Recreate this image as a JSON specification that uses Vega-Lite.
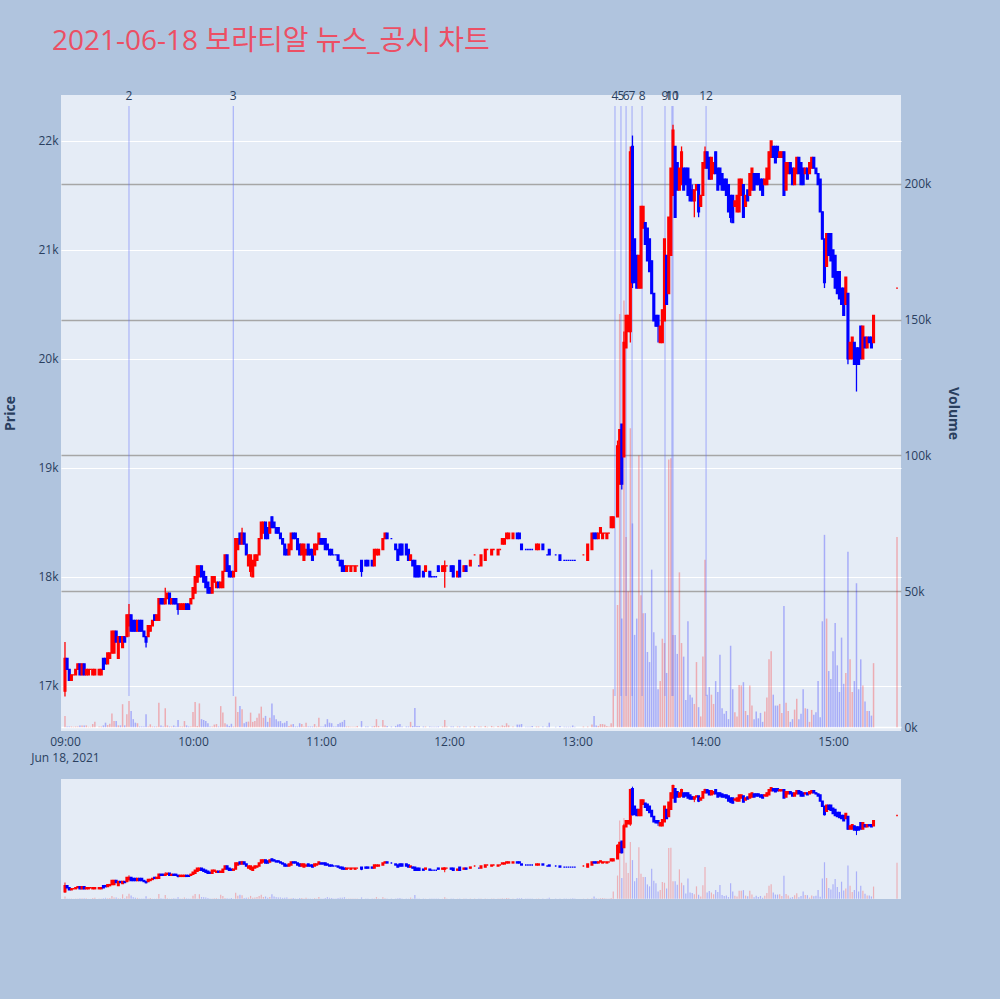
{
"$schema": "https://vega.github.io/schema/vega-lite/v6.json",
"background": "#B0C4DE",
"padding": {"left": 3, "top": 28, "right": 43, "bottom": 100},
"title": {"text": "2021-06-18 보라티알 뉴스_공시 차트", "anchor": "start", "frame": "group", "font": "Open Sans, Noto Sans CJK KR", "fontSize": 28, "fontWeight": "normal", "color": "#EC4F64", "offset": 34, "dx": -9},
"config": {"view": {"stroke": null}, "font": "Open Sans", "scale": {"continuousPadding": 0}, "axis": {"labelColor": "#2a3f5f", "titleColor": "#2a3f5f", "labelFontSize": 12, "ticks": false, "domain": false, "labelFont": "Open Sans", "titleFont": "Open Sans"}},
"bounds": "flush",
"spacing": 48,
"resolve": {"scale": {"x": "independent", "y": "independent"}},
"datasets": {
"events": [
{"t": "2021-06-18 09:30:00", "label": "2"},
{"t": "2021-06-18 10:18:54", "label": "3"},
{"t": "2021-06-18 13:17:48", "label": "4"},
{"t": "2021-06-18 13:20:36", "label": "5"},
{"t": "2021-06-18 13:23:00", "label": "6"},
{"t": "2021-06-18 13:25:48", "label": "7"},
{"t": "2021-06-18 13:30:30", "label": "8"},
{"t": "2021-06-18 13:41:15", "label": "9"},
{"t": "2021-06-18 13:44:30", "label": "10"},
{"t": "2021-06-18 13:45:00", "label": "11"},
{"t": "2021-06-18 14:00:30", "label": "12"}
],
"candles": [
{"t":"2021-06-18 09:00","o":16950,"h":17400,"l":16900,"c":17250,"v":4200},
{"t":"2021-06-18 09:01","o":17250,"h":17250,"l":17150,"c":17150,"v":300},
{"t":"2021-06-18 09:02","o":17150,"h":17150,"l":17050,"c":17050,"v":300},
{"t":"2021-06-18 09:03","o":17050,"h":17100,"l":17050,"c":17100,"v":300},
{"t":"2021-06-18 09:04","o":17100,"h":17100,"l":17100,"c":17100,"v":200},
{"t":"2021-06-18 09:05","o":17100,"h":17150,"l":17100,"c":17150,"v":300},
{"t":"2021-06-18 09:06","o":17150,"h":17200,"l":17150,"c":17200,"v":300},
{"t":"2021-06-18 09:07","o":17200,"h":17200,"l":17100,"c":17100,"v":700},
{"t":"2021-06-18 09:08","o":17100,"h":17200,"l":17100,"c":17200,"v":700},
{"t":"2021-06-18 09:09","o":17200,"h":17200,"l":17100,"c":17100,"v":700},
{"t":"2021-06-18 09:10","o":17100,"h":17150,"l":17100,"c":17150,"v":700},
{"t":"2021-06-18 09:11","o":17100,"h":17150,"l":17100,"c":17150,"v":200},
{"t":"2021-06-18 09:12","o":17150,"h":17150,"l":17150,"c":17150,"v":200},
{"t":"2021-06-18 09:13","o":17100,"h":17150,"l":17100,"c":17150,"v":1200},
{"t":"2021-06-18 09:14","o":17100,"h":17150,"l":17100,"c":17150,"v":2000},
{"t":"2021-06-18 09:16","o":17100,"h":17150,"l":17100,"c":17150,"v":300},
{"t":"2021-06-18 09:17","o":17100,"h":17150,"l":17100,"c":17150,"v":300},
{"t":"2021-06-18 09:18","o":17250,"h":17250,"l":17150,"c":17150,"v":700},
{"t":"2021-06-18 09:19","o":17250,"h":17250,"l":17200,"c":17200,"v":1700},
{"t":"2021-06-18 09:20","o":17200,"h":17300,"l":17200,"c":17300,"v":800},
{"t":"2021-06-18 09:21","o":17250,"h":17300,"l":17250,"c":17300,"v":1300},
{"t":"2021-06-18 09:22","o":17300,"h":17500,"l":17300,"c":17500,"v":5100},
{"t":"2021-06-18 09:23","o":17300,"h":17500,"l":17300,"c":17500,"v":2300},
{"t":"2021-06-18 09:24","o":17500,"h":17500,"l":17400,"c":17400,"v":2300},
{"t":"2021-06-18 09:25","o":17250,"h":17450,"l":17250,"c":17450,"v":700},
{"t":"2021-06-18 09:26","o":17450,"h":17450,"l":17400,"c":17400,"v":700},
{"t":"2021-06-18 09:27","o":17350,"h":17450,"l":17350,"c":17450,"v":8500},
{"t":"2021-06-18 09:28","o":17450,"h":17450,"l":17400,"c":17400,"v":700},
{"t":"2021-06-18 09:29","o":17450,"h":17650,"l":17450,"c":17650,"v":4800},
{"t":"2021-06-18 09:30","o":17550,"h":17750,"l":17450,"c":17650,"v":9700},
{"t":"2021-06-18 09:31","o":17650,"h":17650,"l":17500,"c":17500,"v":6000},
{"t":"2021-06-18 09:32","o":17600,"h":17600,"l":17500,"c":17500,"v":3000},
{"t":"2021-06-18 09:33","o":17600,"h":17600,"l":17500,"c":17500,"v":1700},
{"t":"2021-06-18 09:34","o":17500,"h":17600,"l":17500,"c":17600,"v":1500},
{"t":"2021-06-18 09:35","o":17600,"h":17600,"l":17500,"c":17500,"v":300},
{"t":"2021-06-18 09:36","o":17600,"h":17600,"l":17500,"c":17500,"v":300},
{"t":"2021-06-18 09:37","o":17500,"h":17500,"l":17450,"c":17450,"v":300},
{"t":"2021-06-18 09:38","o":17450,"h":17450,"l":17350,"c":17400,"v":4800},
{"t":"2021-06-18 09:39","o":17450,"h":17550,"l":17450,"c":17550,"v":300},
{"t":"2021-06-18 09:40","o":17500,"h":17550,"l":17500,"c":17550,"v":1100},
{"t":"2021-06-18 09:41","o":17550,"h":17600,"l":17550,"c":17600,"v":300},
{"t":"2021-06-18 09:42","o":17650,"h":17650,"l":17600,"c":17600,"v":300},
{"t":"2021-06-18 09:43","o":17600,"h":17650,"l":17600,"c":17650,"v":300},
{"t":"2021-06-18 09:44","o":17600,"h":17800,"l":17600,"c":17800,"v":9000},
{"t":"2021-06-18 09:45","o":17800,"h":17800,"l":17750,"c":17750,"v":700},
{"t":"2021-06-18 09:46","o":17800,"h":17800,"l":17750,"c":17750,"v":300},
{"t":"2021-06-18 09:47","o":17750,"h":17900,"l":17750,"c":17800,"v":7000},
{"t":"2021-06-18 09:48","o":17800,"h":17850,"l":17800,"c":17850,"v":700},
{"t":"2021-06-18 09:49","o":17850,"h":17850,"l":17750,"c":17750,"v":300},
{"t":"2021-06-18 09:50","o":17750,"h":17800,"l":17750,"c":17800,"v":300},
{"t":"2021-06-18 09:51","o":17800,"h":17800,"l":17750,"c":17750,"v":700},
{"t":"2021-06-18 09:52","o":17800,"h":17800,"l":17750,"c":17750,"v":300},
{"t":"2021-06-18 09:53","o":17750,"h":17750,"l":17650,"c":17700,"v":2700},
{"t":"2021-06-18 09:54","o":17700,"h":17750,"l":17700,"c":17750,"v":300},
{"t":"2021-06-18 09:55","o":17700,"h":17750,"l":17700,"c":17750,"v":300},
{"t":"2021-06-18 09:56","o":17700,"h":17750,"l":17700,"c":17750,"v":2300},
{"t":"2021-06-18 09:57","o":17750,"h":17750,"l":17700,"c":17700,"v":700},
{"t":"2021-06-18 09:58","o":17750,"h":17750,"l":17700,"c":17700,"v":300},
{"t":"2021-06-18 09:59","o":17750,"h":17800,"l":17750,"c":17800,"v":300},
{"t":"2021-06-18 10:00","o":17800,"h":17900,"l":17800,"c":17900,"v":5600},
{"t":"2021-06-18 10:01","o":17850,"h":18000,"l":17850,"c":18000,"v":9300},
{"t":"2021-06-18 10:02","o":17950,"h":18100,"l":17950,"c":18100,"v":500},
{"t":"2021-06-18 10:03","o":18000,"h":18100,"l":18000,"c":18100,"v":8800},
{"t":"2021-06-18 10:04","o":18100,"h":18100,"l":18000,"c":18000,"v":3000},
{"t":"2021-06-18 10:05","o":18050,"h":18050,"l":17950,"c":17950,"v":2700},
{"t":"2021-06-18 10:06","o":18000,"h":18000,"l":17900,"c":17900,"v":2300},
{"t":"2021-06-18 10:07","o":17950,"h":17950,"l":17850,"c":17850,"v":1500},
{"t":"2021-06-18 10:08","o":17900,"h":17900,"l":17850,"c":17850,"v":300},
{"t":"2021-06-18 10:09","o":17850,"h":18000,"l":17850,"c":18000,"v":300},
{"t":"2021-06-18 10:10","o":17950,"h":18000,"l":17950,"c":18000,"v":1000},
{"t":"2021-06-18 10:11","o":17900,"h":17950,"l":17900,"c":17950,"v":1200},
{"t":"2021-06-18 10:12","o":17950,"h":17950,"l":17900,"c":17900,"v":300},
{"t":"2021-06-18 10:13","o":17900,"h":17950,"l":17900,"c":17950,"v":7800},
{"t":"2021-06-18 10:14","o":17900,"h":18050,"l":17900,"c":18050,"v":5400},
{"t":"2021-06-18 10:15","o":18050,"h":18200,"l":18050,"c":18200,"v":1500},
{"t":"2021-06-18 10:16","o":18200,"h":18200,"l":18050,"c":18050,"v":1000},
{"t":"2021-06-18 10:17","o":18100,"h":18100,"l":18000,"c":18000,"v":500},
{"t":"2021-06-18 10:18","o":18050,"h":18050,"l":18000,"c":18000,"v":1300},
{"t":"2021-06-18 10:19","o":18000,"h":18050,"l":18000,"c":18050,"v":300},
{"t":"2021-06-18 10:20","o":18050,"h":18350,"l":18050,"c":18350,"v":11300},
{"t":"2021-06-18 10:21","o":18250,"h":18350,"l":18250,"c":18350,"v":5600},
{"t":"2021-06-18 10:22","o":18400,"h":18400,"l":18300,"c":18300,"v":7800},
{"t":"2021-06-18 10:23","o":18300,"h":18450,"l":18300,"c":18400,"v":6600},
{"t":"2021-06-18 10:24","o":18400,"h":18400,"l":18300,"c":18300,"v":1500},
{"t":"2021-06-18 10:25","o":18300,"h":18300,"l":18200,"c":18200,"v":2000},
{"t":"2021-06-18 10:26","o":18100,"h":18200,"l":18100,"c":18200,"v":2100},
{"t":"2021-06-18 10:27","o":18050,"h":18200,"l":18000,"c":18200,"v":5400},
{"t":"2021-06-18 10:28","o":18000,"h":18150,"l":18000,"c":18150,"v":2000},
{"t":"2021-06-18 10:29","o":18100,"h":18200,"l":18100,"c":18200,"v":2300},
{"t":"2021-06-18 10:30","o":18150,"h":18200,"l":18150,"c":18200,"v":3500},
{"t":"2021-06-18 10:31","o":18200,"h":18350,"l":18200,"c":18350,"v":5100},
{"t":"2021-06-18 10:32","o":18350,"h":18500,"l":18350,"c":18500,"v":7600},
{"t":"2021-06-18 10:33","o":18400,"h":18500,"l":18400,"c":18500,"v":3500},
{"t":"2021-06-18 10:34","o":18500,"h":18500,"l":18350,"c":18350,"v":4200},
{"t":"2021-06-18 10:35","o":18450,"h":18450,"l":18350,"c":18350,"v":2000},
{"t":"2021-06-18 10:36","o":18400,"h":18500,"l":18400,"c":18500,"v":3500},
{"t":"2021-06-18 10:37","o":18550,"h":18550,"l":18450,"c":18450,"v":8800},
{"t":"2021-06-18 10:38","o":18500,"h":18500,"l":18450,"c":18450,"v":4400},
{"t":"2021-06-18 10:39","o":18450,"h":18450,"l":18400,"c":18400,"v":3000},
{"t":"2021-06-18 10:40","o":18450,"h":18450,"l":18400,"c":18400,"v":2200},
{"t":"2021-06-18 10:41","o":18400,"h":18400,"l":18350,"c":18350,"v":2300},
{"t":"2021-06-18 10:42","o":18350,"h":18350,"l":18300,"c":18300,"v":1500},
{"t":"2021-06-18 10:43","o":18300,"h":18300,"l":18200,"c":18200,"v":1700},
{"t":"2021-06-18 10:44","o":18250,"h":18250,"l":18200,"c":18200,"v":2300},
{"t":"2021-06-18 10:45","o":18200,"h":18300,"l":18200,"c":18300,"v":500},
{"t":"2021-06-18 10:46","o":18250,"h":18400,"l":18250,"c":18400,"v":1000},
{"t":"2021-06-18 10:47","o":18400,"h":18400,"l":18350,"c":18350,"v":1200},
{"t":"2021-06-18 10:48","o":18400,"h":18400,"l":18350,"c":18350,"v":300},
{"t":"2021-06-18 10:49","o":18350,"h":18350,"l":18250,"c":18250,"v":300},
{"t":"2021-06-18 10:50","o":18300,"h":18300,"l":18200,"c":18200,"v":1500},
{"t":"2021-06-18 10:51","o":18200,"h":18300,"l":18200,"c":18300,"v":1200},
{"t":"2021-06-18 10:52","o":18150,"h":18300,"l":18150,"c":18300,"v":300},
{"t":"2021-06-18 10:53","o":18200,"h":18250,"l":18200,"c":18250,"v":1700},
{"t":"2021-06-18 10:54","o":18300,"h":18300,"l":18200,"c":18200,"v":300},
{"t":"2021-06-18 10:55","o":18250,"h":18250,"l":18200,"c":18200,"v":300},
{"t":"2021-06-18 10:56","o":18250,"h":18250,"l":18150,"c":18150,"v":300},
{"t":"2021-06-18 10:57","o":18200,"h":18300,"l":18200,"c":18300,"v":1200},
{"t":"2021-06-18 10:58","o":18250,"h":18300,"l":18250,"c":18300,"v":300},
{"t":"2021-06-18 10:59","o":18300,"h":18400,"l":18300,"c":18400,"v":3500},
{"t":"2021-06-18 11:00","o":18350,"h":18350,"l":18300,"c":18300,"v":300},
{"t":"2021-06-18 11:01","o":18350,"h":18350,"l":18300,"c":18300,"v":300},
{"t":"2021-06-18 11:02","o":18350,"h":18350,"l":18250,"c":18250,"v":1100},
{"t":"2021-06-18 11:03","o":18300,"h":18300,"l":18250,"c":18250,"v":3000},
{"t":"2021-06-18 11:04","o":18250,"h":18250,"l":18200,"c":18200,"v":1700},
{"t":"2021-06-18 11:05","o":18250,"h":18250,"l":18200,"c":18200,"v":1500},
{"t":"2021-06-18 11:06","o":18200,"h":18200,"l":18200,"c":18200,"v":300},
{"t":"2021-06-18 11:07","o":18200,"h":18200,"l":18200,"c":18200,"v":300},
{"t":"2021-06-18 11:08","o":18200,"h":18200,"l":18150,"c":18150,"v":1200},
{"t":"2021-06-18 11:09","o":18150,"h":18150,"l":18100,"c":18100,"v":1700},
{"t":"2021-06-18 11:10","o":18150,"h":18150,"l":18050,"c":18050,"v":2000},
{"t":"2021-06-18 11:11","o":18100,"h":18100,"l":18050,"c":18050,"v":2700},
{"t":"2021-06-18 11:12","o":18050,"h":18100,"l":18050,"c":18100,"v":300},
{"t":"2021-06-18 11:13","o":18100,"h":18100,"l":18100,"c":18100,"v":300},
{"t":"2021-06-18 11:14","o":18050,"h":18100,"l":18050,"c":18100,"v":200},
{"t":"2021-06-18 11:15","o":18100,"h":18100,"l":18100,"c":18100,"v":200},
{"t":"2021-06-18 11:16","o":18050,"h":18100,"l":18050,"c":18100,"v":200},
{"t":"2021-06-18 11:17","o":18100,"h":18100,"l":18100,"c":18100,"v":500},
{"t":"2021-06-18 11:19","o":18150,"h":18150,"l":18000,"c":18050,"v":2300},
{"t":"2021-06-18 11:21","o":18150,"h":18150,"l":18100,"c":18100,"v":300},
{"t":"2021-06-18 11:22","o":18150,"h":18150,"l":18100,"c":18100,"v":300},
{"t":"2021-06-18 11:24","o":18150,"h":18150,"l":18100,"c":18100,"v":300},
{"t":"2021-06-18 11:25","o":18100,"h":18250,"l":18100,"c":18250,"v":500},
{"t":"2021-06-18 11:26","o":18200,"h":18250,"l":18200,"c":18250,"v":3000},
{"t":"2021-06-18 11:27","o":18200,"h":18250,"l":18200,"c":18250,"v":500},
{"t":"2021-06-18 11:29","o":18250,"h":18350,"l":18250,"c":18350,"v":2700},
{"t":"2021-06-18 11:30","o":18350,"h":18400,"l":18350,"c":18400,"v":700},
{"t":"2021-06-18 11:31","o":18400,"h":18400,"l":18350,"c":18350,"v":500},
{"t":"2021-06-18 11:33","o":18350,"h":18350,"l":18350,"c":18350,"v":300},
{"t":"2021-06-18 11:35","o":18300,"h":18300,"l":18250,"c":18250,"v":500},
{"t":"2021-06-18 11:36","o":18250,"h":18250,"l":18150,"c":18150,"v":1000},
{"t":"2021-06-18 11:37","o":18300,"h":18300,"l":18200,"c":18200,"v":1200},
{"t":"2021-06-18 11:38","o":18300,"h":18300,"l":18200,"c":18200,"v":300},
{"t":"2021-06-18 11:40","o":18300,"h":18300,"l":18200,"c":18200,"v":300},
{"t":"2021-06-18 11:41","o":18250,"h":18250,"l":18150,"c":18150,"v":300},
{"t":"2021-06-18 11:42","o":18150,"h":18200,"l":18150,"c":18200,"v":2000},
{"t":"2021-06-18 11:43","o":18150,"h":18150,"l":18100,"c":18100,"v":500},
{"t":"2021-06-18 11:44","o":18150,"h":18150,"l":18000,"c":18000,"v":7100},
{"t":"2021-06-18 11:45","o":18100,"h":18100,"l":18000,"c":18000,"v":500},
{"t":"2021-06-18 11:46","o":18100,"h":18100,"l":18000,"c":18000,"v":500},
{"t":"2021-06-18 11:48","o":18050,"h":18050,"l":18000,"c":18000,"v":300},
{"t":"2021-06-18 11:49","o":18050,"h":18100,"l":18050,"c":18100,"v":300},
{"t":"2021-06-18 11:51","o":18050,"h":18050,"l":18000,"c":18000,"v":300},
{"t":"2021-06-18 11:52","o":18000,"h":18000,"l":18000,"c":18000,"v":200},
{"t":"2021-06-18 11:53","o":18000,"h":18000,"l":18000,"c":18000,"v":200},
{"t":"2021-06-18 11:54","o":18000,"h":18000,"l":18000,"c":18000,"v":200},
{"t":"2021-06-18 11:55","o":18100,"h":18100,"l":18050,"c":18050,"v":300},
{"t":"2021-06-18 11:57","o":18050,"h":18100,"l":18050,"c":18100,"v":300},
{"t":"2021-06-18 11:58","o":18050,"h":18150,"l":17900,"c":18100,"v":2700},
{"t":"2021-06-18 11:59","o":18100,"h":18100,"l":18100,"c":18100,"v":300},
{"t":"2021-06-18 12:01","o":18100,"h":18100,"l":18050,"c":18050,"v":300},
{"t":"2021-06-18 12:02","o":18100,"h":18100,"l":18000,"c":18000,"v":300},
{"t":"2021-06-18 12:04","o":18000,"h":18050,"l":18000,"c":18050,"v":300},
{"t":"2021-06-18 12:05","o":18150,"h":18150,"l":18000,"c":18000,"v":300},
{"t":"2021-06-18 12:07","o":18050,"h":18100,"l":18050,"c":18100,"v":300},
{"t":"2021-06-18 12:08","o":18100,"h":18100,"l":18050,"c":18050,"v":300},
{"t":"2021-06-18 12:10","o":18100,"h":18150,"l":18100,"c":18150,"v":300},
{"t":"2021-06-18 12:12","o":18200,"h":18200,"l":18200,"c":18200,"v":500},
{"t":"2021-06-18 12:14","o":18100,"h":18100,"l":18100,"c":18100,"v":300},
{"t":"2021-06-18 12:15","o":18100,"h":18200,"l":18100,"c":18200,"v":300},
{"t":"2021-06-18 12:17","o":18150,"h":18250,"l":18150,"c":18250,"v":500},
{"t":"2021-06-18 12:18","o":18250,"h":18250,"l":18250,"c":18250,"v":200},
{"t":"2021-06-18 12:20","o":18200,"h":18250,"l":18200,"c":18250,"v":500},
{"t":"2021-06-18 12:21","o":18250,"h":18250,"l":18250,"c":18250,"v":200},
{"t":"2021-06-18 12:23","o":18200,"h":18250,"l":18200,"c":18250,"v":500},
{"t":"2021-06-18 12:24","o":18250,"h":18250,"l":18250,"c":18250,"v":200},
{"t":"2021-06-18 12:25","o":18300,"h":18350,"l":18300,"c":18350,"v":700},
{"t":"2021-06-18 12:26","o":18300,"h":18350,"l":18300,"c":18350,"v":500},
{"t":"2021-06-18 12:27","o":18350,"h":18400,"l":18350,"c":18400,"v":1500},
{"t":"2021-06-18 12:28","o":18350,"h":18400,"l":18350,"c":18400,"v":700},
{"t":"2021-06-18 12:30","o":18350,"h":18400,"l":18350,"c":18400,"v":300},
{"t":"2021-06-18 12:32","o":18400,"h":18400,"l":18350,"c":18350,"v":1000},
{"t":"2021-06-18 12:33","o":18400,"h":18400,"l":18350,"c":18350,"v":1000},
{"t":"2021-06-18 12:34","o":18300,"h":18300,"l":18250,"c":18250,"v":1200},
{"t":"2021-06-18 12:36","o":18250,"h":18250,"l":18250,"c":18250,"v":200},
{"t":"2021-06-18 12:37","o":18250,"h":18250,"l":18250,"c":18250,"v":200},
{"t":"2021-06-18 12:38","o":18250,"h":18250,"l":18250,"c":18250,"v":200},
{"t":"2021-06-18 12:39","o":18250,"h":18250,"l":18250,"c":18250,"v":500},
{"t":"2021-06-18 12:41","o":18250,"h":18300,"l":18250,"c":18300,"v":300},
{"t":"2021-06-18 12:42","o":18250,"h":18300,"l":18250,"c":18300,"v":300},
{"t":"2021-06-18 12:44","o":18300,"h":18300,"l":18250,"c":18250,"v":300},
{"t":"2021-06-18 12:46","o":18200,"h":18200,"l":18200,"c":18200,"v":300},
{"t":"2021-06-18 12:47","o":18250,"h":18250,"l":18200,"c":18200,"v":1700},
{"t":"2021-06-18 12:50","o":18200,"h":18200,"l":18200,"c":18200,"v":200},
{"t":"2021-06-18 12:52","o":18200,"h":18200,"l":18150,"c":18150,"v":500},
{"t":"2021-06-18 12:54","o":18150,"h":18150,"l":18150,"c":18150,"v":200},
{"t":"2021-06-18 12:55","o":18150,"h":18150,"l":18150,"c":18150,"v":200},
{"t":"2021-06-18 12:56","o":18150,"h":18150,"l":18150,"c":18150,"v":200},
{"t":"2021-06-18 12:57","o":18150,"h":18150,"l":18150,"c":18150,"v":200},
{"t":"2021-06-18 12:58","o":18150,"h":18150,"l":18150,"c":18150,"v":700},
{"t":"2021-06-18 12:59","o":18150,"h":18150,"l":18150,"c":18150,"v":200},
{"t":"2021-06-18 13:03","o":18200,"h":18200,"l":18200,"c":18200,"v":300},
{"t":"2021-06-18 13:05","o":18150,"h":18300,"l":18150,"c":18300,"v":300},
{"t":"2021-06-18 13:07","o":18250,"h":18400,"l":18250,"c":18400,"v":1000},
{"t":"2021-06-18 13:08","o":18400,"h":18400,"l":18350,"c":18350,"v":4200},
{"t":"2021-06-18 13:09","o":18400,"h":18400,"l":18350,"c":18350,"v":700},
{"t":"2021-06-18 13:10","o":18350,"h":18400,"l":18350,"c":18400,"v":500},
{"t":"2021-06-18 13:11","o":18400,"h":18450,"l":18400,"c":18450,"v":1200},
{"t":"2021-06-18 13:12","o":18350,"h":18400,"l":18350,"c":18400,"v":1200},
{"t":"2021-06-18 13:13","o":18400,"h":18400,"l":18400,"c":18400,"v":1000},
{"t":"2021-06-18 13:14","o":18350,"h":18400,"l":18350,"c":18400,"v":500},
{"t":"2021-06-18 13:15","o":18400,"h":18400,"l":18400,"c":18400,"v":300},
{"t":"2021-06-18 13:16","o":18450,"h":18550,"l":18450,"c":18550,"v":1500},
{"t":"2021-06-18 13:17","o":18450,"h":18550,"l":18450,"c":18550,"v":14000},
{"t":"2021-06-18 13:19","o":18550,"h":19250,"l":18550,"c":19200,"v":45000},
{"t":"2021-06-18 13:20","o":18850,"h":19350,"l":18850,"c":19350,"v":152000},
{"t":"2021-06-18 13:21","o":19400,"h":19400,"l":18800,"c":18850,"v":40000},
{"t":"2021-06-18 13:22","o":19100,"h":20250,"l":19100,"c":20150,"v":157000},
{"t":"2021-06-18 13:23","o":20100,"h":20400,"l":20100,"c":20400,"v":70000},
{"t":"2021-06-18 13:24","o":20250,"h":20400,"l":20250,"c":20400,"v":50000},
{"t":"2021-06-18 13:25","o":20250,"h":21950,"l":20150,"c":21900,"v":110000},
{"t":"2021-06-18 13:26","o":21950,"h":22050,"l":20650,"c":20700,"v":75000},
{"t":"2021-06-18 13:27","o":21100,"h":21100,"l":20700,"c":20700,"v":34000},
{"t":"2021-06-18 13:28","o":20950,"h":20950,"l":20650,"c":20650,"v":40000},
{"t":"2021-06-18 13:29","o":20650,"h":20950,"l":20650,"c":20950,"v":100000},
{"t":"2021-06-18 13:30","o":20650,"h":21400,"l":20650,"c":21400,"v":48600},
{"t":"2021-06-18 13:31","o":21200,"h":21400,"l":21200,"c":21400,"v":42000},
{"t":"2021-06-18 13:32","o":21250,"h":21250,"l":21050,"c":21050,"v":42000},
{"t":"2021-06-18 13:33","o":21200,"h":21200,"l":20900,"c":20900,"v":27700},
{"t":"2021-06-18 13:34","o":21100,"h":21100,"l":20800,"c":20800,"v":24000},
{"t":"2021-06-18 13:35","o":20900,"h":20900,"l":20600,"c":20600,"v":58000},
{"t":"2021-06-18 13:36","o":20600,"h":20600,"l":20350,"c":20350,"v":35000},
{"t":"2021-06-18 13:37","o":20400,"h":20400,"l":20300,"c":20300,"v":30000},
{"t":"2021-06-18 13:38","o":20400,"h":20400,"l":20150,"c":20300,"v":14000},
{"t":"2021-06-18 13:39","o":20150,"h":20300,"l":20150,"c":20300,"v":17000},
{"t":"2021-06-18 13:40","o":20150,"h":20450,"l":20150,"c":20450,"v":32600},
{"t":"2021-06-18 13:41","o":20350,"h":21100,"l":20350,"c":21100,"v":31000},
{"t":"2021-06-18 13:42","o":20950,"h":20950,"l":20500,"c":20500,"v":20000},
{"t":"2021-06-18 13:43","o":20600,"h":21300,"l":20600,"c":21300,"v":98500},
{"t":"2021-06-18 13:44","o":20950,"h":21750,"l":20950,"c":21750,"v":99000},
{"t":"2021-06-18 13:45","o":21500,"h":22150,"l":21500,"c":22100,"v":34000},
{"t":"2021-06-18 13:46","o":21950,"h":21950,"l":21300,"c":21300,"v":34000},
{"t":"2021-06-18 13:47","o":21800,"h":21800,"l":21550,"c":21550,"v":27000},
{"t":"2021-06-18 13:48","o":21550,"h":21750,"l":21550,"c":21750,"v":57000},
{"t":"2021-06-18 13:49","o":21600,"h":21950,"l":21600,"c":21900,"v":31000},
{"t":"2021-06-18 13:50","o":21750,"h":21750,"l":21550,"c":21550,"v":26000},
{"t":"2021-06-18 13:51","o":21750,"h":21750,"l":21600,"c":21600,"v":10000},
{"t":"2021-06-18 13:52","o":21750,"h":21750,"l":21500,"c":21500,"v":39000},
{"t":"2021-06-18 13:53","o":21650,"h":21650,"l":21450,"c":21450,"v":12000},
{"t":"2021-06-18 13:54","o":21550,"h":21600,"l":21450,"c":21450,"v":11000},
{"t":"2021-06-18 13:55","o":21450,"h":21550,"l":21300,"c":21550,"v":8600},
{"t":"2021-06-18 13:56","o":21550,"h":21600,"l":21550,"c":21600,"v":24000},
{"t":"2021-06-18 13:57","o":21600,"h":21600,"l":21300,"c":21350,"v":7400},
{"t":"2021-06-18 13:58","o":21400,"h":21500,"l":21400,"c":21500,"v":4000},
{"t":"2021-06-18 13:59","o":21500,"h":21800,"l":21500,"c":21800,"v":26000},
{"t":"2021-06-18 14:00","o":21750,"h":21950,"l":21750,"c":21900,"v":61600},
{"t":"2021-06-18 14:01","o":21900,"h":21900,"l":21750,"c":21750,"v":12000},
{"t":"2021-06-18 14:02","o":21850,"h":21850,"l":21650,"c":21650,"v":14800},
{"t":"2021-06-18 14:03","o":21650,"h":21850,"l":21650,"c":21850,"v":12000},
{"t":"2021-06-18 14:04","o":21700,"h":21800,"l":21700,"c":21800,"v":8600},
{"t":"2021-06-18 14:05","o":21900,"h":21900,"l":21700,"c":21700,"v":17000},
{"t":"2021-06-18 14:06","o":21750,"h":21750,"l":21550,"c":21550,"v":13000},
{"t":"2021-06-18 14:07","o":21750,"h":21750,"l":21600,"c":21600,"v":26700},
{"t":"2021-06-18 14:08","o":21700,"h":21700,"l":21550,"c":21550,"v":7000},
{"t":"2021-06-18 14:09","o":21650,"h":21650,"l":21550,"c":21550,"v":5000},
{"t":"2021-06-18 14:10","o":21650,"h":21650,"l":21500,"c":21500,"v":6000},
{"t":"2021-06-18 14:11","o":21600,"h":21600,"l":21350,"c":21350,"v":3000},
{"t":"2021-06-18 14:12","o":21500,"h":21500,"l":21250,"c":21300,"v":30000},
{"t":"2021-06-18 14:13","o":21500,"h":21500,"l":21250,"c":21250,"v":14000},
{"t":"2021-06-18 14:14","o":21400,"h":21450,"l":21400,"c":21450,"v":5500},
{"t":"2021-06-18 14:15","o":21350,"h":21500,"l":21350,"c":21500,"v":4000},
{"t":"2021-06-18 14:16","o":21350,"h":21650,"l":21350,"c":21650,"v":15600},
{"t":"2021-06-18 14:17","o":21500,"h":21650,"l":21500,"c":21650,"v":15400},
{"t":"2021-06-18 14:18","o":21600,"h":21600,"l":21300,"c":21300,"v":16600},
{"t":"2021-06-18 14:19","o":21400,"h":21500,"l":21400,"c":21500,"v":6000},
{"t":"2021-06-18 14:20","o":21550,"h":21550,"l":21450,"c":21450,"v":4500},
{"t":"2021-06-18 14:21","o":21500,"h":21700,"l":21500,"c":21700,"v":15400},
{"t":"2021-06-18 14:22","o":21550,"h":21750,"l":21550,"c":21750,"v":8000},
{"t":"2021-06-18 14:23","o":21700,"h":21700,"l":21550,"c":21550,"v":3000},
{"t":"2021-06-18 14:24","o":21700,"h":21700,"l":21600,"c":21600,"v":5800},
{"t":"2021-06-18 14:25","o":21700,"h":21700,"l":21600,"c":21600,"v":3300},
{"t":"2021-06-18 14:26","o":21650,"h":21650,"l":21550,"c":21550,"v":5300},
{"t":"2021-06-18 14:27","o":21650,"h":21650,"l":21500,"c":21500,"v":2000},
{"t":"2021-06-18 14:28","o":21600,"h":21650,"l":21600,"c":21650,"v":5800},
{"t":"2021-06-18 14:29","o":21600,"h":21750,"l":21600,"c":21750,"v":11000},
{"t":"2021-06-18 14:30","o":21650,"h":21900,"l":21650,"c":21900,"v":25000},
{"t":"2021-06-18 14:31","o":21850,"h":22000,"l":21850,"c":22000,"v":28000},
{"t":"2021-06-18 14:32","o":21950,"h":21950,"l":21850,"c":21850,"v":12000},
{"t":"2021-06-18 14:33","o":21950,"h":21950,"l":21800,"c":21800,"v":8000},
{"t":"2021-06-18 14:34","o":21950,"h":21950,"l":21850,"c":21850,"v":8000},
{"t":"2021-06-18 14:35","o":21850,"h":21900,"l":21850,"c":21900,"v":8600},
{"t":"2021-06-18 14:36","o":21850,"h":21900,"l":21850,"c":21900,"v":5300},
{"t":"2021-06-18 14:37","o":21900,"h":21900,"l":21500,"c":21500,"v":44600},
{"t":"2021-06-18 14:38","o":21550,"h":21800,"l":21550,"c":21800,"v":9000},
{"t":"2021-06-18 14:39","o":21700,"h":21800,"l":21700,"c":21800,"v":6000},
{"t":"2021-06-18 14:40","o":21800,"h":21800,"l":21700,"c":21700,"v":2000},
{"t":"2021-06-18 14:41","o":21750,"h":21750,"l":21600,"c":21600,"v":3000},
{"t":"2021-06-18 14:42","o":21600,"h":21750,"l":21600,"c":21750,"v":6500},
{"t":"2021-06-18 14:43","o":21700,"h":21850,"l":21700,"c":21850,"v":10500},
{"t":"2021-06-18 14:44","o":21850,"h":21850,"l":21700,"c":21700,"v":3000},
{"t":"2021-06-18 14:45","o":21800,"h":21800,"l":21600,"c":21600,"v":5000},
{"t":"2021-06-18 14:46","o":21750,"h":21750,"l":21600,"c":21600,"v":14000},
{"t":"2021-06-18 14:47","o":21700,"h":21750,"l":21700,"c":21750,"v":7000},
{"t":"2021-06-18 14:48","o":21750,"h":21750,"l":21650,"c":21650,"v":6800},
{"t":"2021-06-18 14:49","o":21700,"h":21800,"l":21700,"c":21800,"v":2000},
{"t":"2021-06-18 14:50","o":21750,"h":21850,"l":21750,"c":21850,"v":6400},
{"t":"2021-06-18 14:51","o":21850,"h":21850,"l":21750,"c":21750,"v":4600},
{"t":"2021-06-18 14:52","o":21750,"h":21750,"l":21700,"c":21700,"v":5500},
{"t":"2021-06-18 14:53","o":21700,"h":21700,"l":21600,"c":21600,"v":17000},
{"t":"2021-06-18 14:54","o":21650,"h":21650,"l":21350,"c":21350,"v":3700},
{"t":"2021-06-18 14:55","o":21350,"h":21350,"l":21100,"c":21100,"v":39000},
{"t":"2021-06-18 14:56","o":21100,"h":21100,"l":20650,"c":20700,"v":70800},
{"t":"2021-06-18 14:57","o":20850,"h":21150,"l":20850,"c":21150,"v":40000},
{"t":"2021-06-18 14:58","o":21150,"h":21150,"l":20950,"c":20950,"v":20700},
{"t":"2021-06-18 14:59","o":21150,"h":21150,"l":20900,"c":20900,"v":17800},
{"t":"2021-06-18 15:00","o":21000,"h":21000,"l":20750,"c":20750,"v":28000},
{"t":"2021-06-18 15:01","o":20950,"h":20950,"l":20650,"c":20650,"v":38400},
{"t":"2021-06-18 15:02","o":20800,"h":20800,"l":20600,"c":20600,"v":22800},
{"t":"2021-06-18 15:03","o":20800,"h":20800,"l":20550,"c":20550,"v":13000},
{"t":"2021-06-18 15:04","o":20650,"h":20650,"l":20500,"c":20500,"v":33000},
{"t":"2021-06-18 15:05","o":20650,"h":20650,"l":20400,"c":20400,"v":16000},
{"t":"2021-06-18 15:06","o":20500,"h":20750,"l":20500,"c":20750,"v":20000},
{"t":"2021-06-18 15:07","o":20600,"h":20600,"l":19950,"c":20000,"v":64600},
{"t":"2021-06-18 15:08","o":20000,"h":20150,"l":20000,"c":20150,"v":25000},
{"t":"2021-06-18 15:09","o":20000,"h":20200,"l":20000,"c":20200,"v":13000},
{"t":"2021-06-18 15:10","o":20150,"h":20150,"l":19950,"c":19950,"v":17000},
{"t":"2021-06-18 15:11","o":20100,"h":20100,"l":19700,"c":19950,"v":53000},
{"t":"2021-06-18 15:12","o":20100,"h":20100,"l":19950,"c":19950,"v":14000},
{"t":"2021-06-18 15:13","o":20300,"h":20300,"l":20000,"c":20000,"v":25000},
{"t":"2021-06-18 15:14","o":20000,"h":20300,"l":20000,"c":20300,"v":15400},
{"t":"2021-06-18 15:15","o":20200,"h":20200,"l":20100,"c":20100,"v":9500},
{"t":"2021-06-18 15:16","o":20100,"h":20200,"l":20100,"c":20200,"v":6000},
{"t":"2021-06-18 15:17","o":20200,"h":20200,"l":20150,"c":20150,"v":6000},
{"t":"2021-06-18 15:18","o":20200,"h":20200,"l":20100,"c":20100,"v":4300},
{"t":"2021-06-18 15:19","o":20150,"h":20400,"l":20150,"c":20400,"v":23600},
{"t":"2021-06-18 15:30","o":20650,"h":20650,"l":20650,"c":20650,"v":70000}
]
},
"vconcat": [
{
"width": 840,
"height": 636,
"view": {"fill": "#E5ECF6", "stroke": null},
"encoding": {"x": {"field": "t", "type": "temporal",
  "scale": {"domain": [{"year": 2021, "month": 6, "date": 18, "hours": 8, "minutes": 58, "seconds": 8}, {"year": 2021, "month": 6, "date": 18, "hours": 15, "minutes": 31, "seconds": 52}], "padding": 0},
  "axis": {"values": [{"year": 2021, "month": 6, "date": 18, "hours": 9}, {"year": 2021, "month": 6, "date": 18, "hours": 10}, {"year": 2021, "month": 6, "date": 18, "hours": 11}, {"year": 2021, "month": 6, "date": 18, "hours": 12}, {"year": 2021, "month": 6, "date": 18, "hours": 13}, {"year": 2021, "month": 6, "date": 18, "hours": 14}, {"year": 2021, "month": 6, "date": 18, "hours": 15}],
    "labelExpr": "hours(datum.value) == 9 ? [timeFormat(datum.value, '%H:%M'), timeFormat(datum.value, '%b %d, %Y')] : timeFormat(datum.value, '%H:%M')",
    "labelPadding": 5, "labelLineHeight": 16, "labelFlush": false, "title": null, "grid": false}}},
"layer": [
 {
  "data": {"name": "candles"},
  "transform": [{"window": [{"op": "lag", "field": "c", "param": 1, "as": "pc"}, {"op": "lag", "field": "o", "param": 1, "as": "po"}, {"op": "lag", "field": "c", "param": 2, "as": "pc2"}], "sort": [{"field": "t", "order": "ascending"}]}],
  "mark": {"type": "bar", "size": 1.5, "opacity": 0.27},
  "encoding": {
   "y": {"field": "v", "type": "quantitative", "scale": {"domain": [-1360, 232600], "nice": false, "zero": false, "padding": 0},
     "axis": {"orient": "right", "title": "Volume", "values": [0, 50000, 100000, 150000, 200000], "format": "~s", "grid": true,
       "gridColor": {"condition": {"test": "datum.value === 0", "value": "#ffffff"}, "value": "#a6a6a6"}, "gridWidth": 1.6,
       "labelPadding": 3, "titlePadding": 15, "titleFontSize": 14, "titleFontWeight": "bold"}},
   "color": {"condition": {"test": "datum.c > datum.o || (datum.c == datum.o && (datum.c > datum.pc || (datum.c == datum.pc && (datum.pc > datum.po || (datum.pc == datum.po && datum.pc > datum.pc2)))))", "value": "#ff0000"}, "value": "#0000ff"}
  }
 },
 {
  "layer": [
   {
    "data": {"name": "events"},
    "mark": {"type": "rule", "color": "#636efa", "opacity": 0.45, "strokeWidth": 1.2},
    "encoding": {
     "y": {"datum": 16905, "type": "quantitative", "scale": {"domain": [16584, 22422], "nice": false, "zero": false, "padding": 0},
       "axis": {"orient": "left", "title": "Price", "values": [17000, 18000, 19000, 20000, 21000, 22000], "format": "~s", "grid": true, "gridColor": "#ffffff", "gridWidth": 1.2, "labelPadding": 3, "titlePadding": 20, "titleFontSize": 14, "titleFontWeight": "bold"}},
     "y2": {"datum": 22320}
    }
   },
   {
    "data": {"name": "events"},
    "mark": {"type": "text", "baseline": "middle", "dy": -10, "fontSize": 12, "color": "#2a3f5f", "font": "Open Sans"},
    "encoding": {"y": {"datum": 22320, "type": "quantitative"}, "text": {"field": "label"}}
   },
   {
    "data": {"name": "candles"},
    "transform": [{"window": [{"op": "lag", "field": "c", "param": 1, "as": "pc"}, {"op": "lag", "field": "o", "param": 1, "as": "po"}, {"op": "lag", "field": "c", "param": 2, "as": "pc2"}], "sort": [{"field": "t", "order": "ascending"}]}],
    "mark": {"type": "rule", "strokeWidth": 1.3},
    "encoding": {
     "y": {"field": "l", "type": "quantitative"},
     "y2": {"field": "h"},
     "stroke": {"condition": {"test": "datum.c > datum.o || (datum.c == datum.o && (datum.c > datum.pc || (datum.c == datum.pc && (datum.pc > datum.po || (datum.pc == datum.po && datum.pc > datum.pc2)))))", "value": "#ff0000"}, "value": "#0000ff"}
    }
   },
   {
    "data": {"name": "candles"},
    "transform": [{"window": [{"op": "lag", "field": "c", "param": 1, "as": "pc"}, {"op": "lag", "field": "o", "param": 1, "as": "po"}, {"op": "lag", "field": "c", "param": 2, "as": "pc2"}], "sort": [{"field": "t", "order": "ascending"}]}],
    "mark": {"type": "bar", "size": 1.8, "strokeWidth": 1.3},
    "encoding": {
     "y": {"field": "o", "type": "quantitative"},
     "y2": {"field": "c"},
     "fill": {"condition": {"test": "datum.c > datum.o || (datum.c == datum.o && (datum.c > datum.pc || (datum.c == datum.pc && (datum.pc > datum.po || (datum.pc == datum.po && datum.pc > datum.pc2)))))", "value": "#ff0000"}, "value": "#0000ff"},
     "stroke": {"condition": {"test": "datum.c > datum.o || (datum.c == datum.o && (datum.c > datum.pc || (datum.c == datum.pc && (datum.pc > datum.po || (datum.pc == datum.po && datum.pc > datum.pc2)))))", "value": "#ff0000"}, "value": "#0000ff"}
    }
   }
  ]
 }
],
"resolve": {"scale": {"y": "independent"}}
},
{
"width": 840,
"height": 120,
"view": {"fill": "#E5ECF6", "stroke": null},
"encoding": {"x": {"field": "t", "type": "temporal",
  "scale": {"domain": [{"year": 2021, "month": 6, "date": 18, "hours": 8, "minutes": 58, "seconds": 8}, {"year": 2021, "month": 6, "date": 18, "hours": 15, "minutes": 31, "seconds": 52}], "padding": 0},
  "axis": null}},
"layer": [
 {
  "data": {"name": "candles"},
  "transform": [{"window": [{"op": "lag", "field": "c", "param": 1, "as": "pc"}, {"op": "lag", "field": "o", "param": 1, "as": "po"}, {"op": "lag", "field": "c", "param": 2, "as": "pc2"}], "sort": [{"field": "t", "order": "ascending"}]}],
  "mark": {"type": "bar", "size": 1.2, "opacity": 0.25},
  "encoding": {
   "y": {"field": "v", "type": "quantitative", "scale": {"domain": [-625, 232600], "nice": false, "zero": false, "padding": 0}, "axis": null},
   "color": {"condition": {"test": "datum.c > datum.o || (datum.c == datum.o && (datum.c > datum.pc || (datum.c == datum.pc && (datum.pc > datum.po || (datum.pc == datum.po && datum.pc > datum.pc2)))))", "value": "#ff0000"}, "value": "#0000ff"}
  }
 },
 {
  "layer": [
   {
    "data": {"name": "candles"},
    "transform": [{"window": [{"op": "lag", "field": "c", "param": 1, "as": "pc"}, {"op": "lag", "field": "o", "param": 1, "as": "po"}, {"op": "lag", "field": "c", "param": 2, "as": "pc2"}], "sort": [{"field": "t", "order": "ascending"}]}],
    "mark": {"type": "rule", "strokeWidth": 1},
    "encoding": {
     "y": {"field": "l", "type": "quantitative", "scale": {"domain": [16602, 22422], "nice": false, "zero": false, "padding": 0}, "axis": null},
     "y2": {"field": "h"},
     "stroke": {"condition": {"test": "datum.c > datum.o || (datum.c == datum.o && (datum.c > datum.pc || (datum.c == datum.pc && (datum.pc > datum.po || (datum.pc == datum.po && datum.pc > datum.pc2)))))", "value": "#ff0000"}, "value": "#0000ff"}
    }
   },
   {
    "data": {"name": "candles"},
    "transform": [{"window": [{"op": "lag", "field": "c", "param": 1, "as": "pc"}, {"op": "lag", "field": "o", "param": 1, "as": "po"}, {"op": "lag", "field": "c", "param": 2, "as": "pc2"}], "sort": [{"field": "t", "order": "ascending"}]}],
    "mark": {"type": "bar", "size": 1.6, "strokeWidth": 1.4},
    "encoding": {
     "y": {"field": "o", "type": "quantitative"},
     "y2": {"field": "c"},
     "fill": {"condition": {"test": "datum.c > datum.o || (datum.c == datum.o && (datum.c > datum.pc || (datum.c == datum.pc && (datum.pc > datum.po || (datum.pc == datum.po && datum.pc > datum.pc2)))))", "value": "#ff0000"}, "value": "#0000ff"},
     "stroke": {"condition": {"test": "datum.c > datum.o || (datum.c == datum.o && (datum.c > datum.pc || (datum.c == datum.pc && (datum.pc > datum.po || (datum.pc == datum.po && datum.pc > datum.pc2)))))", "value": "#ff0000"}, "value": "#0000ff"}
    }
   },
   {
    "data": {"values": [{}]},
    "mark": {"type": "rect", "fill": "#ffffff", "stroke": "#444444", "strokeWidth": 1, "cornerRadius": 1},
    "encoding": {
     "x": {"datum": {"year": 2021, "month": 6, "date": 18, "hours": 8, "minutes": 58, "seconds": 50}, "type": "temporal"},
     "x2": {"datum": {"year": 2021, "month": 6, "date": 18, "hours": 9, "minutes": 0, "seconds": 43}},
     "y": {"datum": 20967, "type": "quantitative"},
     "y2": {"datum": 18057}
    }
   },
   {
    "data": {"values": [{}]},
    "mark": {"type": "rect", "fill": "#ffffff", "stroke": "#444444", "strokeWidth": 1, "cornerRadius": 1},
    "encoding": {
     "x": {"datum": {"year": 2021, "month": 6, "date": 18, "hours": 15, "minutes": 29, "seconds": 32}, "type": "temporal"},
     "x2": {"datum": {"year": 2021, "month": 6, "date": 18, "hours": 15, "minutes": 31, "seconds": 26}},
     "y": {"datum": 20967, "type": "quantitative"},
     "y2": {"datum": 18057}
    }
   }
  ]
 }
],
"resolve": {"scale": {"y": "independent"}}
}
]
}
